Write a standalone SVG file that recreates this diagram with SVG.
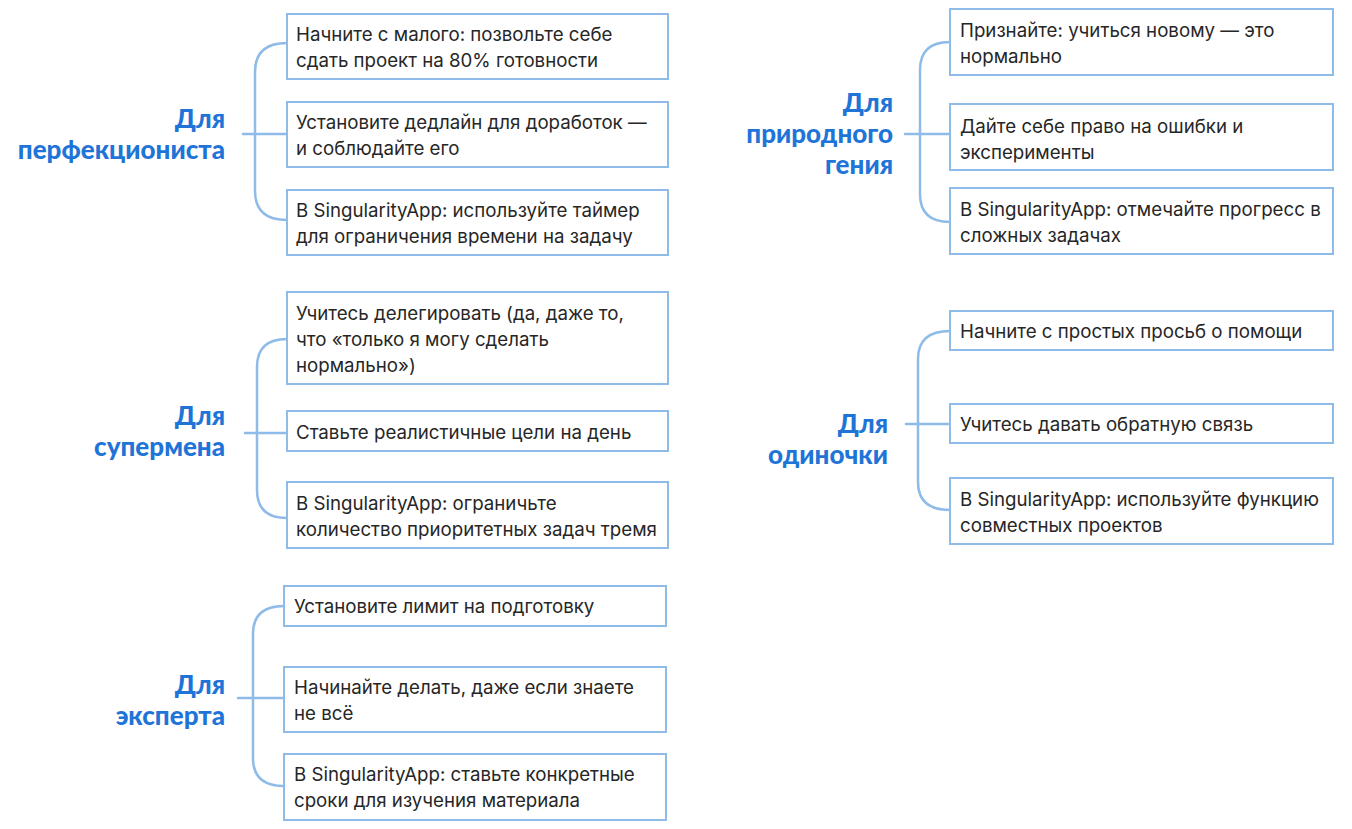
<svg xmlns="http://www.w3.org/2000/svg" width="1352" height="829" viewBox="0 0 1352 829">
<style>
.box{fill:#ffffff;stroke:#8fbbe9;stroke-width:2}
.t{font-family:Inter,"Noto Sans",sans-serif;font-size:18.7px;fill:#262626}
.lab{font-family:Lato,"Open Sans",sans-serif;font-weight:900;font-size:26px;fill:#1f74d8;text-anchor:end}
.br{fill:none;stroke:#8fbbe9;stroke-width:2.5;stroke-linecap:round}
</style>
<rect width="1352" height="829" fill="#ffffff"/>
<g id="connectors">
<path class="br" d="M287,43 Q255,43 255,72 L255,191 Q255,220 287,220 M243,134 L287,134"/>
<path class="br" d="M950,42 Q920,42 920,70 L920,194 Q920,222 950,222 M905,134 L950,134"/>
<path class="br" d="M287,339 Q257,339 257,367 L257,490 Q257,518 287,518 M245,433 L287,433"/>
<path class="br" d="M950,331 Q918,331 918,359 L918,482 Q918,510 950,510 M906,424 L950,424"/>
<path class="br" d="M284,606 Q253,606 253,634 L253,758 Q253,786 284,786 M238,698 L284,698"/>
</g>
<g id="g-perf">
<text class="lab" x="225" y="128">Для</text>
<text class="lab" x="225" y="159">перфекциониста</text>
</g>
<g id="n-perf-1"><rect class="box" x="287" y="14" width="381" height="65"/><text class="t" x="296" y="40.5">Начните с малого: позвольте себе</text><text class="t" x="296" y="66.5">сдать проект на 80% готовности</text></g>
<g id="n-perf-2"><rect class="box" x="287" y="102" width="381" height="65"/><text class="t" x="296" y="128.5">Установите дедлайн для доработок —</text><text class="t" x="296" y="154.5">и соблюдайте его</text></g>
<g id="n-perf-3"><rect class="box" x="287" y="190" width="381" height="65"/><text class="t" x="296" y="216.5">В SingularityApp: используйте таймер</text><text class="t" x="296" y="242.5">для ограничения времени на задачу</text></g>

<g id="g-genius">
<text class="lab" x="893" y="112">Для</text>
<text class="lab" x="893" y="143">природного</text>
<text class="lab" x="893" y="174">гения</text>
</g>
<g id="n-gen-1"><rect class="box" x="950" y="9" width="383" height="66"/><text class="t" x="960" y="36.5">Признайте: учиться новому — это</text><text class="t" x="960" y="62.5">нормально</text></g>
<g id="n-gen-2"><rect class="box" x="950" y="104" width="383" height="66"/><text class="t" x="960" y="132.5">Дайте себе право на ошибки и</text><text class="t" x="960" y="158.5">эксперименты</text></g>
<g id="n-gen-3"><rect class="box" x="950" y="188" width="383" height="66"/><text class="t" x="960" y="215.5">В SingularityApp: отмечайте прогресс в</text><text class="t" x="960" y="241.5">сложных задачах</text></g>

<g id="g-super">
<text class="lab" x="225" y="425">Для</text>
<text class="lab" x="225" y="456">супермена</text>
</g>
<g id="n-sup-1"><rect class="box" x="287" y="292" width="381" height="92"/><text class="t" x="296" y="319.5">Учитесь делегировать (да, даже то,</text><text class="t" x="296" y="345.5">что «только я могу сделать</text><text class="t" x="296" y="371.5">нормально»)</text></g>
<g id="n-sup-2"><rect class="box" x="287" y="411" width="381" height="40"/><text class="t" x="296" y="438.5">Ставьте реалистичные цели на день</text></g>
<g id="n-sup-3"><rect class="box" x="287" y="482" width="381" height="66"/><text class="t" x="296" y="509.5">В SingularityApp: ограничьте</text><text class="t" x="296" y="535.5">количество приоритетных задач тремя</text></g>

<g id="g-loner">
<text class="lab" x="888" y="433">Для</text>
<text class="lab" x="888" y="464">одиночки</text>
</g>
<g id="n-lon-1"><rect class="box" x="950" y="311" width="383" height="39"/><text class="t" x="960" y="337.5">Начните с простых просьб о помощи</text></g>
<g id="n-lon-2"><rect class="box" x="950" y="404" width="383" height="39"/><text class="t" x="960" y="430.5">Учитесь давать обратную связь</text></g>
<g id="n-lon-3"><rect class="box" x="950" y="478" width="383" height="66"/><text class="t" x="960" y="505.5">В SingularityApp: используйте функцию</text><text class="t" x="960" y="531.5">совместных проектов</text></g>

<g id="g-expert">
<text class="lab" x="225" y="694">Для</text>
<text class="lab" x="225" y="725">эксперта</text>
</g>
<g id="n-exp-1"><rect class="box" x="284" y="586" width="382" height="40"/><text class="t" x="294" y="612.5">Установите лимит на подготовку</text></g>
<g id="n-exp-2"><rect class="box" x="284" y="667" width="382" height="65"/><text class="t" x="294" y="693.5">Начинайте делать, даже если знаете</text><text class="t" x="294" y="719.5">не всё</text></g>
<g id="n-exp-3"><rect class="box" x="284" y="754" width="382" height="66"/><text class="t" x="294" y="780.5">В SingularityApp: ставьте конкретные</text><text class="t" x="294" y="806.5">сроки для изучения материала</text></g>
</svg>
